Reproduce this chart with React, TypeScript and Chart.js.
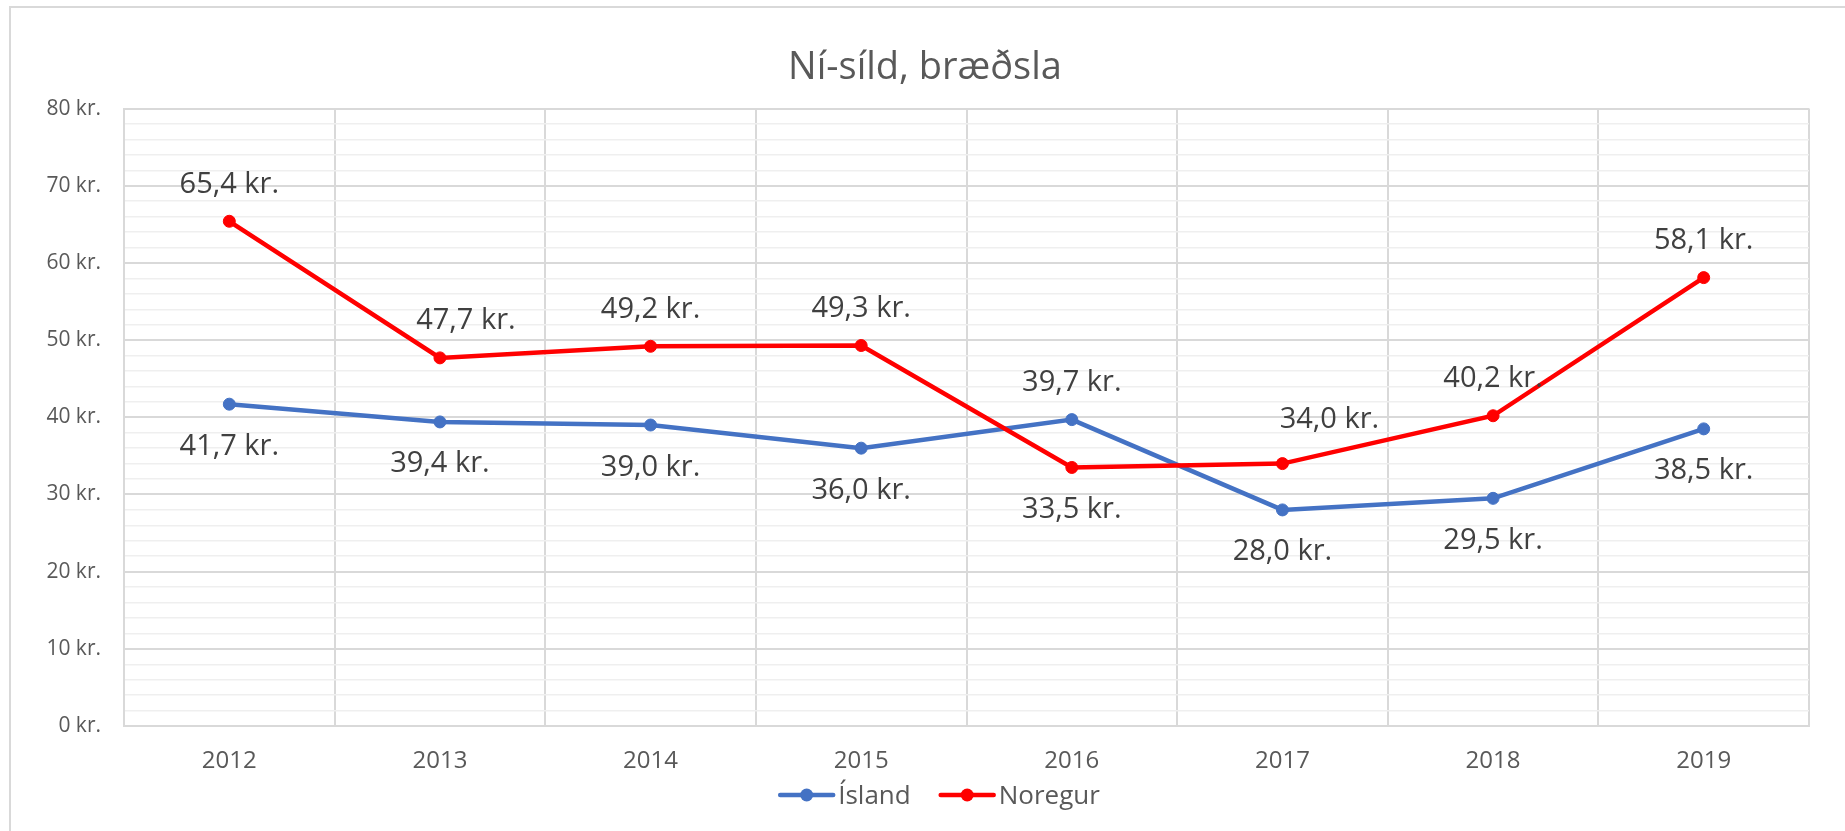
import { useEffect, useRef } from 'react';
import { Chart, registerables } from 'chart.js';

Chart.register(...registerables);

// ---- data ----
const years = ['2012', '2013', '2014', '2015', '2016', '2017', '2018', '2019'];
const islandValues = [41.7, 39.4, 39.0, 36.0, 39.7, 28.0, 29.5, 38.5];
const noregurValues = [65.4, 47.7, 49.2, 49.3, 33.5, 34.0, 40.2, 58.1];
const seriesNames = ['Ísland', 'Noregur'];
const chartTitle = 'Ní-síld, bræðsla';
const yMin = 0;
const yMax = 80;
const yMajorStep = 10;
const yMinorStep = 2;

// ---- label placement (style) ----
const islandLabelSide = ['below', 'below', 'below', 'below', 'above', 'below', 'below', 'below'];
const noregurLabelSide = ['above', 'above', 'above', 'above', 'below', 'above', 'above', 'above'];
const islandLabelShift = [[0, 0], [0, 0], [0, 0], [0, 0], [0, 0], [0, 0], [0, 0], [0, 0]];
const noregurLabelShift = [[0, 0], [26, 0], [0, 0], [0, 0], [0, 0], [47, -7], [0, 0], [0, 0]];

const FONT = "'Open Sans', 'Noto Sans', sans-serif";
const TEXT = '#595959';
const LABEL_TEXT = '#404040';
const BLUE = '#4472C4';
const RED = '#FF0000';
const PLOT_RIGHT = 1809;
const RIGHT_SPACER = 41;
const CANVAS_W = PLOT_RIGHT + RIGHT_SPACER;
const CANVAS_H = 831;

const fmtKr = (v: number) => v.toFixed(1).replace('.', ',') + ' kr.';

const labelPlugin = {
  id: 'valueLabels',
  afterDatasetsDraw(chart: any) {
    const ctx = chart.ctx;
    ctx.save();
    ctx.font = `29px ${FONT}`;
    ctx.fillStyle = LABEL_TEXT;
    ctx.textAlign = 'center';
    ctx.textBaseline = 'alphabetic';
    chart.data.datasets.forEach((ds: any, di: number) => {
      const meta = chart.getDatasetMeta(di);
      const sides = ds.labelSide as string[];
      const shifts = ds.labelShift as number[][];
      meta.data.forEach((pt: any, i: number) => {
        const v = ds.data[i];
        const off = sides[i] === 'above' ? -28.5 : 50.5;
        ctx.fillText(fmtKr(v), pt.x + shifts[i][0], pt.y + off + shifts[i][1]);
      });
    });
    ctx.restore();
  },
};

const legendPlugin = {
  id: 'excelLegend',
  afterDraw(chart: any) {
    const ctx = chart.ctx;
    const { left, right, bottom } = chart.chartArea;
    ctx.save();
    ctx.font = `26px ${FONT}`;
    const markerW = 57;
    const gapText = 3;
    const gapItem = 28;
    const dss = chart.data.datasets;
    const widths = dss.map((ds: any) => ctx.measureText(ds.label).width);
    let total = 0;
    widths.forEach((w: number) => (total += markerW + gapText + w));
    total += gapItem * (dss.length - 1);
    let x = (left + right) / 2 - 27.5 - total / 2;
    const y = bottom + 69;
    dss.forEach((ds: any, i: number) => {
      ctx.strokeStyle = ds.borderColor;
      ctx.lineWidth = 4.5;
      ctx.lineCap = 'round';
      ctx.beginPath();
      ctx.moveTo(x + 2, y);
      ctx.lineTo(x + markerW - 2, y);
      ctx.stroke();
      ctx.fillStyle = ds.borderColor;
      ctx.beginPath();
      ctx.arc(x + markerW / 2, y, 6.5, 0, Math.PI * 2);
      ctx.fill();
      ctx.fillStyle = TEXT;
      ctx.textAlign = 'left';
      ctx.textBaseline = 'middle';
      ctx.fillText(ds.label, x + markerW + gapText, y + 1.5);
      x += markerW + gapText + widths[i] + gapItem;
    });
    ctx.restore();
  },
};

export default function App() {
  const canvasRef = useRef<HTMLCanvasElement | null>(null);

  useEffect(() => {
    const canvas = canvasRef.current;
    if (!canvas) return;
    const chart = new Chart(canvas, {
      type: 'line',
      data: {
        labels: years,
        datasets: [
          {
            label: seriesNames[0],
            data: islandValues,
            borderColor: BLUE,
            backgroundColor: BLUE,
            pointBackgroundColor: BLUE,
            pointBorderColor: BLUE,
            borderWidth: 4.5,
            pointRadius: 6,
            pointBorderWidth: 1,
            tension: 0,
            order: 1,
            yAxisID: 'y',
            labelSide: islandLabelSide,
            labelShift: islandLabelShift,
          } as any,
          {
            label: seriesNames[1],
            data: noregurValues,
            borderColor: RED,
            backgroundColor: RED,
            pointBackgroundColor: RED,
            pointBorderColor: RED,
            borderWidth: 4.5,
            pointRadius: 6,
            pointBorderWidth: 1,
            tension: 0,
            order: 0,
            yAxisID: 'y',
            labelSide: noregurLabelSide,
            labelShift: noregurLabelShift,
          } as any,
        ],
      },
      options: {
        animation: false,
        responsive: false,
        devicePixelRatio: 1,
        layout: { padding: { left: 0, right: 0, top: 0, bottom: 0 } },
        plugins: {
          legend: { display: false },
          tooltip: { enabled: false },
          title: {
            display: true,
            text: chartTitle,
            color: TEXT,
            font: { family: FONT, size: 38, weight: 'normal' },
            padding: { top: 45, bottom: 18 },
          },
        },
        scales: {
          x: {
            offset: true,
            grid: { offset: true, color: '#d9d9d9', lineWidth: 2, drawTicks: false },
            border: { color: '#d9d9d9', width: 2 },
            ticks: {
              color: TEXT,
              font: { family: FONT, size: 24 },
              padding: 21,
              maxRotation: 0,
              autoSkip: false,
            },
            afterFit: (scale: any) => {
              scale.height = 105;
            },
          },
          y: {
            position: 'left',
            min: yMin,
            max: yMax,
            grid: {
              drawTicks: false,
              color: (c: any) => (c.tick && c.tick.value % yMajorStep === 0 ? '#d9d9d9' : '#efefef'),
              lineWidth: (c: any) => (c.tick && c.tick.value % yMajorStep === 0 ? 2 : 1.5),
            },
            border: { color: '#d9d9d9', width: 2 },
            ticks: {
              stepSize: yMinorStep,
              autoSkip: false,
              color: TEXT,
              font: { family: FONT, size: 21 },
              padding: 23,
              callback: (v: any) => (Number(v) % yMajorStep === 0 ? `${v} kr.` : ''),
            },
            afterFit: (scale: any) => {
              scale.width = 124;
            },
          },
          spacer: {
            position: 'right',
            min: yMin,
            max: yMax,
            grid: { display: false, drawTicks: false },
            border: { display: false },
            ticks: { display: false },
            afterFit: (scale: any) => {
              scale.width = RIGHT_SPACER;
            },
          },
        },
      },
      plugins: [labelPlugin, legendPlugin],
    });
    return () => chart.destroy();
  }, []);

  return (
    <>
      <div
        style={{
          position: 'fixed',
          left: 9,
          top: 6,
          width: 1900,
          height: 900,
          border: '2px solid #d9d9d9',
          boxSizing: 'border-box',
          background: '#fff',
        }}
      />
      <canvas
        ref={canvasRef}
        width={CANVAS_W}
        height={CANVAS_H}
        style={{
          position: 'fixed',
          left: 0,
          top: 0,
          width: CANVAS_W,
          height: CANVAS_H,
        }}
      />
    </>
  );
}
